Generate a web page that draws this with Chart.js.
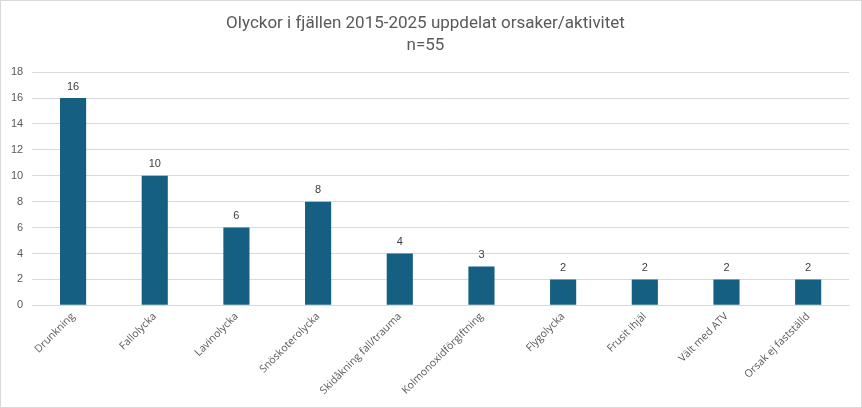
<!DOCTYPE html>
<html>
<head>
<meta charset="utf-8">
<script src="https://cdn.jsdelivr.net/npm/chart.js@4.4.1/dist/chart.umd.min.js"></script>
<style>
  html, body { margin: 0; padding: 0; background: #fff; }
  #wrap { position: relative; width: 860px; height: 406px; border: 1px solid #d9d9d9; }
</style>
</head>
<body>
<div id="wrap"><canvas id="c"></canvas></div>
<script>
const categories = ["Drunkning", "Fallolycka", "Lavinolycka", "Snöskoterolycka", "Skidåkning fall/trauma", "Kolmonoxidförgiftning", "Flygolycka", "Frusit ihjäl", "Vält med ATV", "Orsak ej fastställd"];
const values = [16, 10, 6, 8, 4, 3, 2, 2, 2, 2];
const titleLines = ["Olyckor i fjällen 2015-2025 uppdelat orsaker/aktivitet", "n=55"];
const yTicks = [0, 2, 4, 6, 8, 10, 12, 14, 16, 18];

const dataLabels = {
  id: 'dataLabels',
  afterDatasetsDraw(chart) {
    const ctx = chart.ctx;
    const meta = chart.getDatasetMeta(0);
    ctx.save();
    ctx.font = '11px "Liberation Sans", Arial, sans-serif';
    ctx.fillStyle = '#404040';
    ctx.textAlign = 'center';
    ctx.textBaseline = 'bottom';
    meta.data.forEach((bar, i) => {
      ctx.fillText(String(chart.data.datasets[0].data[i]), bar.x, bar.y - 6);
    });
    ctx.restore();
  }
};

new Chart(document.getElementById('c'), {
  type: 'bar',
  data: {
    labels: categories,
    datasets: [{
      data: values,
      backgroundColor: '#156082',
      barPercentage: 0.32,
      categoryPercentage: 1.0
    }]
  },
  options: {
    responsive: true,
    maintainAspectRatio: false,
    animation: false,
    layout: { padding: { left: 1, right: 12, top: 4, bottom: 5 } },
    plugins: {
      legend: { display: false },
      tooltip: { enabled: false },
      title: {
        display: true,
        text: titleLines,
        color: '#595959',
        font: { family: 'Roboto, sans-serif', size: 17, weight: 'normal', lineHeight: 1.3 },
        padding: { top: 8, bottom: 15 }
      }
    },
    scales: {
      x: {
        grid: { display: false, drawTicks: false },
        border: { color: '#d9d9d9' },
        ticks: {
          color: '#595959',
          font: { family: '"Open Sans", sans-serif', size: 10.5 },
          maxRotation: 45, minRotation: 45,
          padding: 5
        }
      },
      y: {
        min: 0, max: 18,
        afterBuildTicks(axis) { axis.ticks = yTicks.map(v => ({ value: v })); },
        grid: { color: '#d9d9d9', drawTicks: false },
        border: { display: false },
        ticks: {
          color: '#595959',
          font: { family: '"Liberation Sans", Arial, sans-serif', size: 11 },
          padding: 9
        }
      }
    }
  },
  plugins: [dataLabels]
});
</script>
</body>
</html>
